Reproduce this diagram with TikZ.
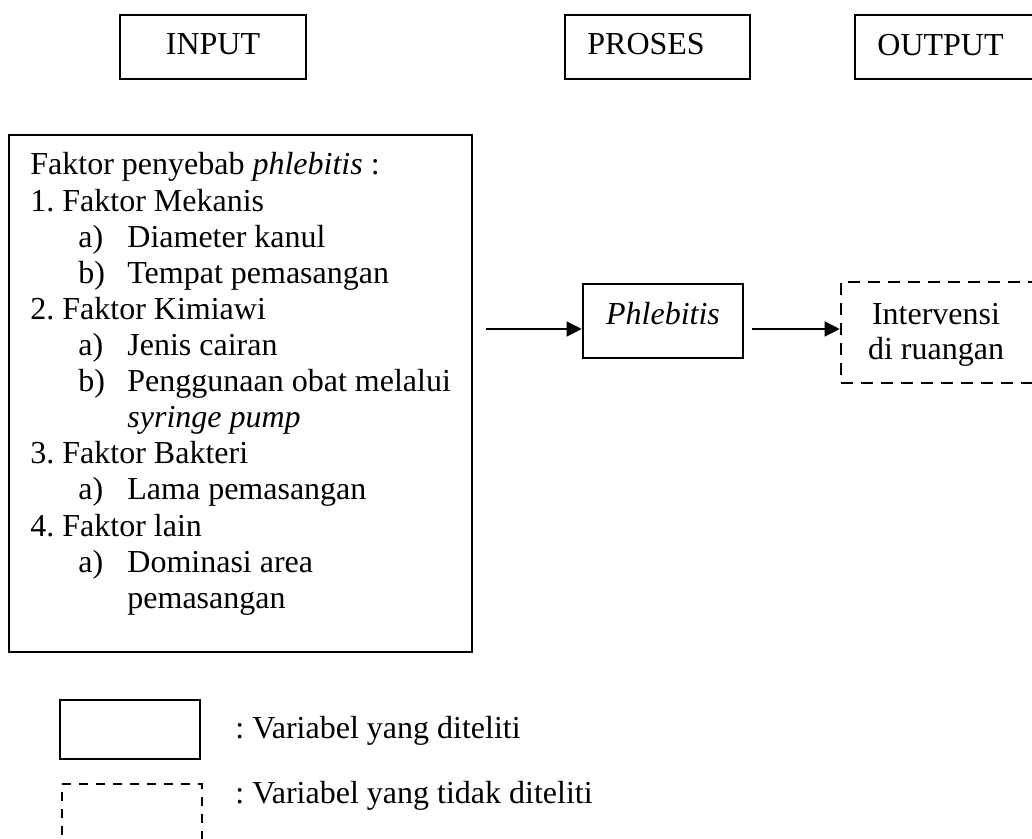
\documentclass[tikz,border=0pt]{standalone}
\usepackage{fontspec}
\setmainfont{Liberation Serif}
\usetikzlibrary{arrows.meta}
\frenchspacing
\begin{document}
\begin{tikzpicture}[x=0.5pt,y=-0.5pt,
  every node/.style={font=\fontsize{16}{18}\selectfont},
  txt/.style={inner sep=0pt, anchor=base west},
  ctxt/.style={inner sep=0pt, anchor=base},
  sbox/.style={draw, line width=1.3pt, inner sep=0pt},
  dbox/.style={draw, line width=1.3pt, dash pattern=on 6pt off 4pt, inner sep=0pt},
  lsbox/.style={draw, line width=1pt, inner sep=0pt},
  ldbox/.style={draw, line width=1pt, dash pattern=on 4.5pt off 4pt, inner sep=0pt},
  arr/.style={line width=0.6pt, -{Triangle[length=7.5pt,width=7.5pt]}}]
\useasboundingbox (0,0) rectangle (1032,839);
\clip (0,0) rectangle (1032,839);
\fill[white] (0,0) rectangle (1032,839);

% header boxes
\node[sbox, minimum width=93pt, minimum height=32pt] (inbox) at (213,47) {};
\node[sbox, minimum width=92.5pt, minimum height=32pt] (prbox) at (657.5,47) {};
\node[sbox, minimum width=107.5pt, minimum height=32pt] (outbox) at (962.5,47) {};
\node[ctxt] (intxt) at (213,55) {INPUT};
\node[txt] (prtxt) at (587,55) {PROSES};
\node[txt] (outtxt) at (877,56) {OUTPUT};

% main factor box
\node[sbox, minimum width=231.5pt, minimum height=258.5pt] (main) at (240.5,393.5) {};
\node[txt] (l0) at (30,175) {Faktor penyebab \textit{phlebitis} :};
\node[txt] (l1) at (30,211.1) {1. Faktor Mekanis};
\node[txt] (l2a) at (78,247.2) {a)};
\node[txt] (l2) at (127,247.2) {Diameter kanul};
\node[txt] (l3a) at (78,283.3) {b)};
\node[txt] (l3) at (127,283.3) {Tempat pemasangan};
\node[txt] (l4) at (30,319.4) {2. Faktor Kimiawi};
\node[txt] (l5a) at (78,355.5) {a)};
\node[txt] (l5) at (127,355.5) {Jenis cairan};
\node[txt] (l6a) at (78,391.6) {b)};
\node[txt] (l6) at (127,391.6) {Penggunaan obat melalui};
\node[txt] (l7) at (127,427.7) {\textit{syringe pump}};
\node[txt] (l8) at (30,463.8) {3. Faktor Bakteri};
\node[txt] (l9a) at (78,499.9) {a)};
\node[txt] (l9) at (127,499.9) {Lama pemasangan};
\node[txt] (l10) at (30,536) {4. Faktor lain};
\node[txt] (l11a) at (78,572.1) {a)};
\node[txt] (l11) at (127,572.1) {Dominasi area};
\node[txt] (l12) at (127,608.2) {pemasangan};

% phlebitis
\node[sbox, minimum width=80pt, minimum height=37pt] (phl) at (663,321) {};
\node[ctxt] (phltxt) at (663,325) {\textit{Phlebitis}};

% intervensi (dashed)
\node[dbox, minimum width=114.5pt, minimum height=50.5pt] (interv) at (955.5,332.5) {};
\node[ctxt] (iv1) at (936,325) {Intervensi};
\node[ctxt] (iv2) at (936,359) {di ruangan};

% arrows
\coordinate (a1s) at (486,329);
\coordinate (a2s) at (752,329);
\draw[arr] (a1s) -- (a1s -| phl.west);
\draw[arr] (a2s) -- (a2s -| interv.west);

% legend
\node[lsbox, minimum width=70pt, minimum height=29.5pt] (leg1) at (130,729.5) {};
\node[ldbox, minimum width=70pt, minimum height=43pt] (leg2) at (132,827) {};
\node[txt] (leg1txt) at (235,738) {: Variabel yang diteliti};
\node[txt] (leg2txt) at (235,803) {: Variabel yang tidak diteliti};
\end{tikzpicture}
\end{document}
